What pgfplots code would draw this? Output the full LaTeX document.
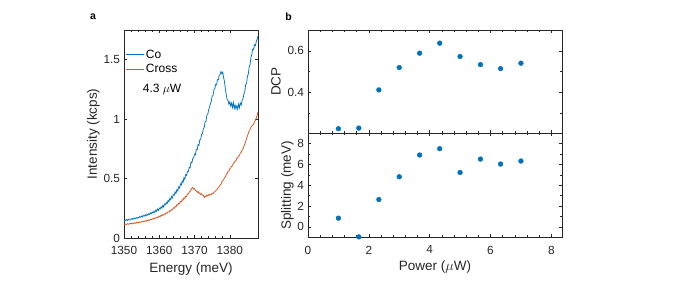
\documentclass[border=0pt]{standalone}
\usepackage{pgfplots}
\pgfplotsset{compat=1.18}
\usepackage{fontspec}
\setmainfont{Liberation Sans}
\definecolor{mblue}{RGB}{0,114,189}
\definecolor{morange}{RGB}{217,83,25}
\definecolor{axc}{gray}{0.15}
\pgfplotstableread{
E I
1350.00 0.140
1350.25 0.152
1350.50 0.146
1350.75 0.155
1351.00 0.148
1351.25 0.158
1351.50 0.153
1351.75 0.151
1352.00 0.162
1352.25 0.157
1352.50 0.165
1352.75 0.159
1353.00 0.168
1353.25 0.163
1353.50 0.171
1353.75 0.166
1354.00 0.176
1354.25 0.170
1354.50 0.180
1354.75 0.174
1355.00 0.185
1355.25 0.178
1355.50 0.189
1355.75 0.184
1356.00 0.195
1356.25 0.186
1356.50 0.199
1356.75 0.192
1357.00 0.205
1357.25 0.198
1357.50 0.212
1357.75 0.204
1358.00 0.218
1358.25 0.210
1358.50 0.226
1358.75 0.214
1359.00 0.235
1359.25 0.225
1359.50 0.243
1359.75 0.232
1360.00 0.252
1360.25 0.244
1360.50 0.262
1360.75 0.251
1361.00 0.274
1361.25 0.262
1361.50 0.286
1361.75 0.280
1362.00 0.300
1362.25 0.290
1362.50 0.316
1362.75 0.305
1363.00 0.333
1363.25 0.322
1363.50 0.350
1363.75 0.338
1364.00 0.366
1364.25 0.360
1364.50 0.388
1364.75 0.375
1365.00 0.408
1365.25 0.396
1365.50 0.430
1365.75 0.420
1366.00 0.455
1366.25 0.446
1366.50 0.480
1366.75 0.468
1367.00 0.507
1367.25 0.494
1367.50 0.533
1367.75 0.526
1368.00 0.560
1368.25 0.558
1368.50 0.595
1368.75 0.590
1369.00 0.638
1369.25 0.632
1369.50 0.668
1369.75 0.675
1370.00 0.705
1370.25 0.700
1370.50 0.745
1370.75 0.742
1371.00 0.785
1371.25 0.780
1371.50 0.826
1371.75 0.830
1372.00 0.872
1372.25 0.878
1372.50 0.920
1372.75 0.930
1373.00 0.978
1373.25 0.982
1373.50 1.032
1373.75 1.040
1374.00 1.078
1374.25 1.100
1374.50 1.130
1374.75 1.150
1375.00 1.192
1375.25 1.200
1375.50 1.248
1375.75 1.255
1376.00 1.292
1376.25 1.290
1376.50 1.332
1376.75 1.330
1377.00 1.370
1377.25 1.375
1377.50 1.400
1377.75 1.382
1378.00 1.395
1378.25 1.350
1378.50 1.315
1378.75 1.250
1379.00 1.205
1379.25 1.165
1379.50 1.158
1379.75 1.125
1380.00 1.145
1380.25 1.110
1380.50 1.135
1380.75 1.098
1381.00 1.140
1381.25 1.090
1381.50 1.120
1381.75 1.085
1382.00 1.112
1382.25 1.085
1382.50 1.128
1382.75 1.095
1383.00 1.135
1383.25 1.120
1383.50 1.160
1383.75 1.170
1384.00 1.210
1384.25 1.230
1384.50 1.290
1384.75 1.300
1385.00 1.360
1385.25 1.380
1385.50 1.440
1385.75 1.460
1386.00 1.520
1386.25 1.545
1386.50 1.590
1386.75 1.585
1387.00 1.625
1387.25 1.618
1387.50 1.650
1387.75 1.672
1388.00 1.700
}\co
\pgfplotstableread{
E I
1350.00 0.112
1350.25 0.118
1350.50 0.113
1350.75 0.116
1351.00 0.120
1351.25 0.115
1351.50 0.121
1351.75 0.118
1352.00 0.124
1352.25 0.119
1352.50 0.126
1352.75 0.122
1353.00 0.128
1353.25 0.124
1353.50 0.131
1353.75 0.127
1354.00 0.133
1354.25 0.129
1354.50 0.135
1354.75 0.132
1355.00 0.138
1355.25 0.135
1355.50 0.141
1355.75 0.138
1356.00 0.145
1356.25 0.141
1356.50 0.149
1356.75 0.146
1357.00 0.153
1357.25 0.149
1357.50 0.157
1357.75 0.154
1358.00 0.161
1358.25 0.158
1358.50 0.166
1358.75 0.163
1359.00 0.171
1359.25 0.168
1359.50 0.177
1359.75 0.174
1360.00 0.184
1360.25 0.180
1360.50 0.190
1360.75 0.187
1361.00 0.197
1361.25 0.193
1361.50 0.204
1361.75 0.201
1362.00 0.212
1362.25 0.209
1362.50 0.220
1362.75 0.218
1363.00 0.230
1363.25 0.226
1363.50 0.240
1363.75 0.238
1364.00 0.253
1364.25 0.250
1364.50 0.265
1364.75 0.262
1365.00 0.280
1365.25 0.276
1365.50 0.293
1365.75 0.290
1366.00 0.308
1366.25 0.304
1366.50 0.322
1366.75 0.318
1367.00 0.338
1367.25 0.333
1367.50 0.353
1367.75 0.350
1368.00 0.370
1368.25 0.372
1368.50 0.388
1368.75 0.392
1369.00 0.405
1369.25 0.418
1369.50 0.425
1369.75 0.412
1370.00 0.416
1370.25 0.400
1370.50 0.398
1370.75 0.385
1371.00 0.390
1371.25 0.375
1371.50 0.380
1371.75 0.366
1372.00 0.372
1372.25 0.360
1372.50 0.362
1372.75 0.340
1373.00 0.352
1373.25 0.348
1373.50 0.360
1373.75 0.354
1374.00 0.365
1374.25 0.360
1374.50 0.370
1374.75 0.366
1375.00 0.377
1375.25 0.375
1375.50 0.386
1375.75 0.390
1376.00 0.398
1376.25 0.405
1376.50 0.412
1376.75 0.425
1377.00 0.432
1377.25 0.445
1377.50 0.452
1377.75 0.470
1378.00 0.482
1378.25 0.490
1378.50 0.508
1378.75 0.515
1379.00 0.535
1379.25 0.540
1379.50 0.560
1379.75 0.562
1380.00 0.582
1380.25 0.590
1380.50 0.602
1380.75 0.608
1381.00 0.628
1381.25 0.632
1381.50 0.648
1381.75 0.650
1382.00 0.670
1382.25 0.675
1382.50 0.690
1382.75 0.695
1383.00 0.715
1383.25 0.722
1383.50 0.740
1383.75 0.748
1384.00 0.772
1384.25 0.790
1384.50 0.812
1384.75 0.835
1385.00 0.858
1385.25 0.880
1385.50 0.900
1385.75 0.915
1386.00 0.932
1386.25 0.940
1386.50 0.950
1386.75 0.958
1387.00 0.975
1387.25 0.990
1387.50 1.008
1387.75 1.030
1388.00 1.060
}\cross
\pgfplotstableread{
P D S
1.00 0.227 0.84
1.67 0.230 -0.96
2.33 0.413 2.63
3.00 0.520 4.82
3.67 0.589 6.91
4.33 0.637 7.52
5.00 0.573 5.23
5.67 0.534 6.52
6.33 0.515 6.04
7.00 0.541 6.33
}\pw
\pgfplotsset{
  every axis/.append style={
    scale only axis,
    axis line style={axc, line width=0.6pt},
    tick style={axc, line width=0.5pt},
    major tick length=3pt, minor tick length=1.8pt,
    tick align=inside,
    every tick label/.append style={font=\fontsize{11.8}{13}\selectfont, text=axc},
    xticklabel style={yshift=-5pt},
    yticklabel style={xshift=-0.5pt},
    label style={font=\fontsize{13.5}{15}\selectfont, text=axc},
    /pgf/number format/assume math mode=true,
  },
}
\begin{document}
\begin{tikzpicture}
\path[use as bounding box] (0pt,0pt) rectangle (675pt,288pt);
% panel a
\begin{axis}[
  at={(124pt,50pt)}, anchor=south west,
  width=134pt, height=208pt,
  xmin=1350, xmax=1388, ymin=0, ymax=1.75,
  xtick={1350,1360,1370,1380},
  minor x tick num=4,
  ytick={0,0.5,1,1.5},
  xticklabel style={/pgf/number format/1000 sep={}},
  xlabel={Energy (meV)}, ylabel={Intensity (kcps)},
  xlabel style={at={(axis description cs:0.5,0)}, anchor=center, yshift=-31pt},
  ylabel style={at={(axis description cs:-0.229,0.5)}, anchor=center},
  legend style={draw=none, fill=none, at={(0.0,0.925)}, anchor=north west,
    font=\fontsize{12}{13}\selectfont, text=black, row sep=0.5pt,
    legend cell align=left, inner xsep=1pt},
  legend image code/.code={\draw[mark repeat=2,mark phase=2,#1] plot coordinates {(0pt,0pt) (9pt,0pt) (18pt,0pt)};},
]
\addplot[mblue, line width=0.75pt] table[x=E,y=I] {\co};
\addlegendentry{Co}
\addplot[morange, line width=0.75pt] table[x=E,y=I] {\cross};
\addlegendentry{Cross}
\node[anchor=west, font=\fontsize{12}{13}\selectfont, inner sep=0pt] at (axis cs:1355.3,1.25) {4.3 $\mu$W};
\end{axis}
% panel b top
\begin{axis}[
  at={(308pt,154.7pt)}, anchor=south west,
  width=254pt, height=103.3pt,
  xmin=0, xmax=8.35, ymin=0.205, ymax=0.70,
  xtick={0,2,4,6,8}, minor x tick num=4, xticklabels={},
  ytick={0.4,0.6}, minor ytick={0.3,0.5,0.7},
  ylabel={DCP},
  ylabel style={at={(axis description cs:-0.126,0.5)}, anchor=center},
  clip=false,
]
\addplot[only marks, mark=*, mark size=2.4pt, mblue, mark options={draw=mblue, fill=mblue}] table[x=P,y=D] {\pw};
\end{axis}
% panel b bottom
\begin{axis}[
  at={(308pt,50.7pt)}, anchor=south west,
  width=254pt, height=104pt,
  xmin=0, xmax=8.35, ymin=-1, ymax=9,
  xtick={0,2,4,6,8}, minor x tick num=4,
  ytick={0,2,4,6,8}, minor ytick={1,3,5,7},
  xlabel={Power ($\mu$W)}, ylabel={Splitting (meV)},
  xlabel style={at={(axis description cs:0.5,0)}, anchor=center, yshift=-30pt},
  ylabel style={at={(axis description cs:-0.0815,0.5)}, anchor=center},
  clip=false,
]
\addplot[only marks, mark=*, mark size=2.4pt, mblue, mark options={draw=mblue, fill=mblue}] table[x=P,y=S] {\pw};
\end{axis}
\node[font=\bfseries\fontsize{10.5}{12}\selectfont] at (93pt,271pt) {a};
\node[font=\bfseries\fontsize{10.5}{12}\selectfont] at (288.5pt,271pt) {b};
\end{tikzpicture}
\end{document}
